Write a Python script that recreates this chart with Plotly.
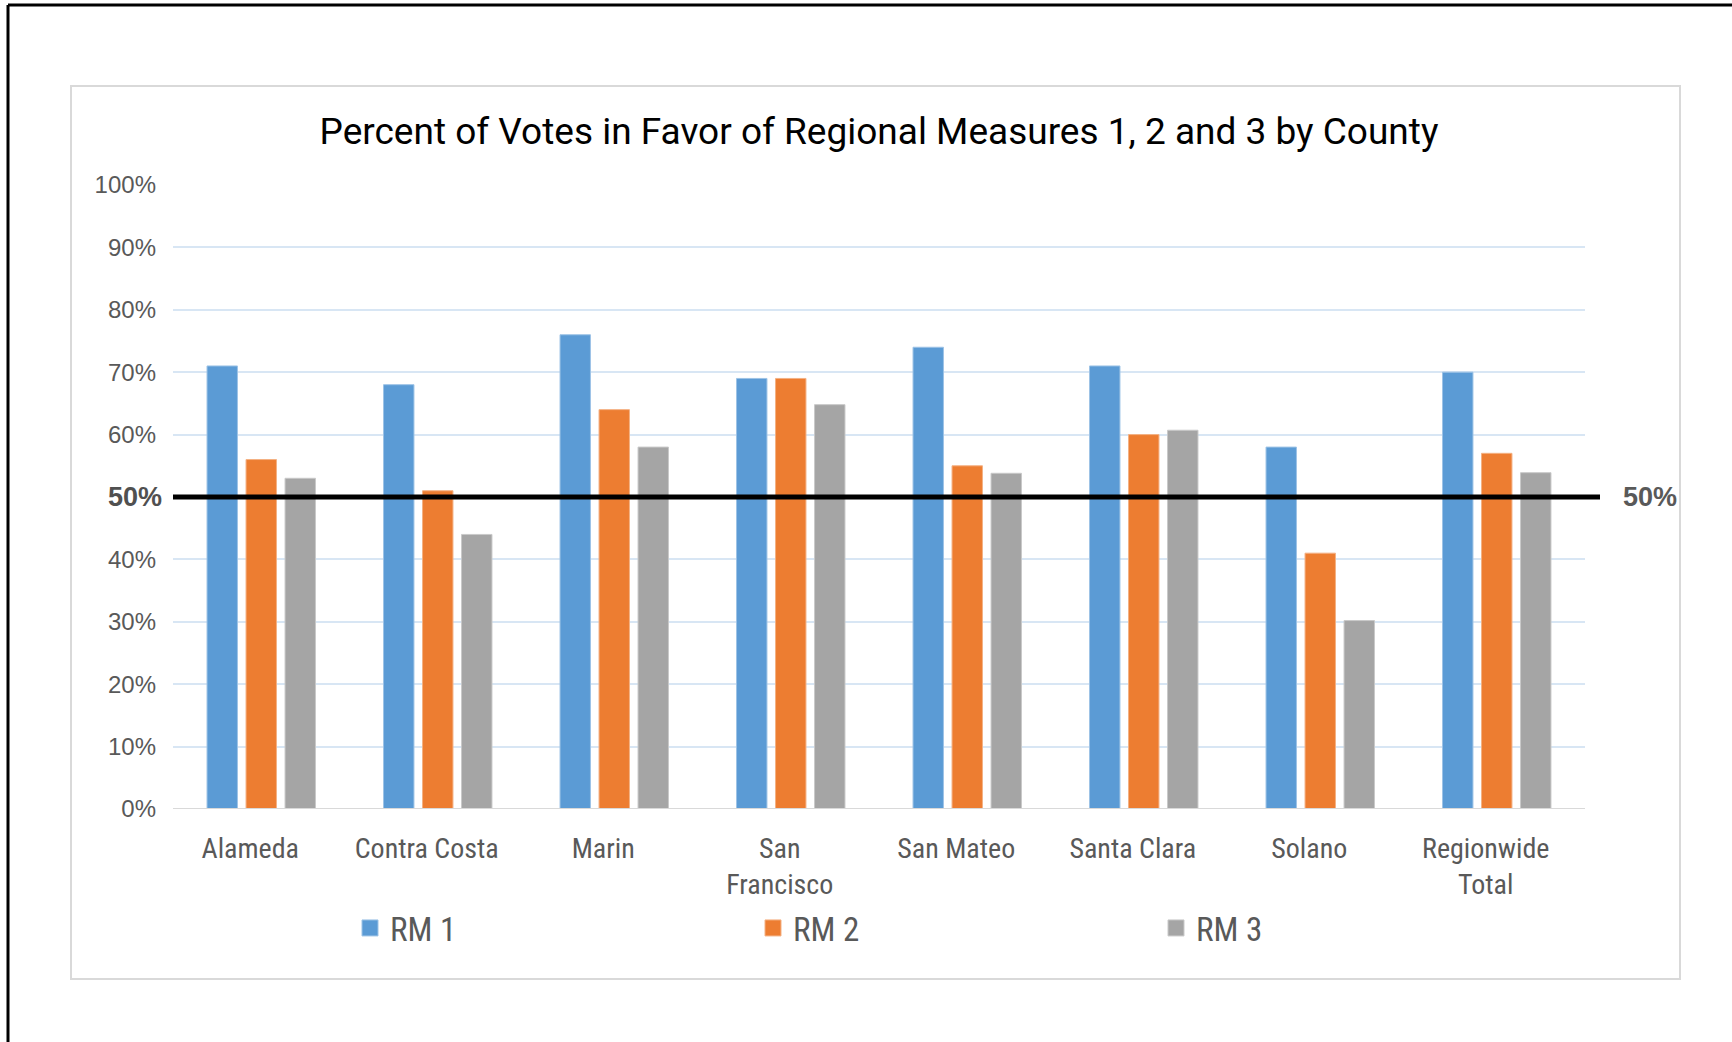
import plotly.graph_objects as go

counties = ["Alameda", "Contra Costa", "Marin", "San<br>Francisco", "San Mateo",
            "Santa Clara", "Solano", "Regionwide<br>Total"]
rm1 = [0.71, 0.68, 0.76, 0.69, 0.74, 0.71, 0.58, 0.70]
rm2 = [0.56, 0.51, 0.64, 0.69, 0.55, 0.60, 0.41, 0.57]
rm3 = [0.53, 0.44, 0.58, 0.648, 0.538, 0.607, 0.302, 0.539]
series_names = ["RM 1", "RM 2", "RM 3"]
colors = ["#5B9BD5", "#ED7D31", "#A5A5A5"]
edge_colors = ["#9DC3E6", "#F4B183", "#C9C9C9"]
ytick_vals = [0, 0.1, 0.2, 0.3, 0.4, 0.5, 0.6, 0.7, 0.8, 0.9, 1.0]
ytick_text = ["0%", "10%", "20%", "30%", "40%", "", "60%", "70%", "80%", "90%", "100%"]
threshold = 0.5
threshold_label = "50%"

W, H = 1732, 1042
L, R, T, B = 173, 147, 185, 233
PW, PH = W - L - R, H - T - B


def px(x):
    return (x - L) / PW


def py(y):
    return (H - B - y) / PH


fig = go.Figure()
for name, vals, c, ec in zip(series_names, [rm1, rm2, rm3], colors, edge_colors):
    fig.add_trace(go.Bar(x=counties, y=vals, name=name, legendgroup=name, showlegend=False,
                         marker=dict(color=c, line=dict(color=ec, width=1))))
# legend entries (square swatches)
for name, c, ec in zip(series_names, colors, edge_colors):
    fig.add_trace(go.Scatter(x=[None], y=[None], mode="markers", name=name, legendgroup=name,
                             marker=dict(symbol="square", size=16, color=c,
                                         line=dict(color=ec, width=1))))

COND = "Liberation Sans Narrow, Roboto Condensed, DejaVu Sans Condensed, Arial Narrow, sans-serif"

fig.update_layout(
    width=W, height=H,
    margin=dict(l=L, r=R, t=T, b=B),
    paper_bgcolor="white", plot_bgcolor="white",
    font=dict(family="Liberation Sans, Arial, sans-serif", color="#595959"),
    bargap=0.337, bargroupgap=0.22,
    title=dict(text="Percent of Votes in Favor of Regional Measures 1, 2 and 3 by County",
               x=0.5, xref="paper", xanchor="center",
               y=1 - 131 / H, yref="container", yanchor="middle",
               font=dict(family="Roboto, Liberation Sans, Arial", size=37, color="#000000")),
    xaxis=dict(showgrid=False, showline=False, zeroline=False, ticks="",
               tickfont=dict(family=COND, size=28, color="#595959"),
               ticklabelstandoff=20, ticklabelshift=-11, fixedrange=True),
    yaxis=dict(range=[0, 1], tickvals=ytick_vals, ticktext=ytick_text,
               showgrid=True, gridcolor="#D8E6F4", gridwidth=2,
               zeroline=False, showline=False, ticks="",
               tickfont=dict(family="Liberation Sans, Arial", size=24, color="#595959"),
               ticklabelstandoff=16, fixedrange=True),
    legend=dict(orientation="h", x=px(350), xanchor="left", y=py(928), yanchor="middle",
                entrywidth=358, entrywidthmode="pixels", itemsizing="trace",
                font=dict(family=COND, size=33, color="#595959"),
                bgcolor="rgba(0,0,0,0)"),
    showlegend=True,
)

shapes = [
    # outer black border (top and left)
    dict(type="line", xref="paper", yref="paper", x0=px(8), x1=px(W + 5), y0=py(5), y1=py(5),
         line=dict(color="black", width=3)),
    dict(type="line", xref="paper", yref="paper", x0=px(8), x1=px(8), y0=py(5), y1=py(H + 5),
         line=dict(color="black", width=3)),
    # inner chart box
    dict(type="rect", xref="paper", yref="paper", x0=px(71), x1=px(1680), y0=py(979), y1=py(86),
         line=dict(color="#D9D9D9", width=2), layer="below"),
    # baseline
    dict(type="line", xref="paper", yref="y", x0=0, x1=1, y0=0, y1=0,
         line=dict(color="#D9D9D9", width=2)),
    # 50% threshold line
    dict(type="line", xref="paper", yref="y", x0=0, x1=px(1600), y0=threshold, y1=threshold,
         line=dict(color="black", width=5)),
]
fig.update_layout(shapes=shapes)

# bold 50% labels on both sides of the threshold line
fig.add_annotation(xref="paper", yref="y", x=px(164), y=threshold,
                   text="<b>" + threshold_label + "</b>",
                   showarrow=False, xanchor="right", yanchor="middle",
                   font=dict(family="Liberation Sans, Arial", size=27, color="#505050"))
fig.add_annotation(xref="paper", yref="y", x=px(1650), y=threshold,
                   text="<b>" + threshold_label + "</b>",
                   showarrow=False, xanchor="center", yanchor="middle",
                   font=dict(family="Liberation Sans, Arial", size=27, color="#595959"))

fig.write_html("out.html", config={"displayModeBar": False},
               post_script="document.body.style.margin='0';")
